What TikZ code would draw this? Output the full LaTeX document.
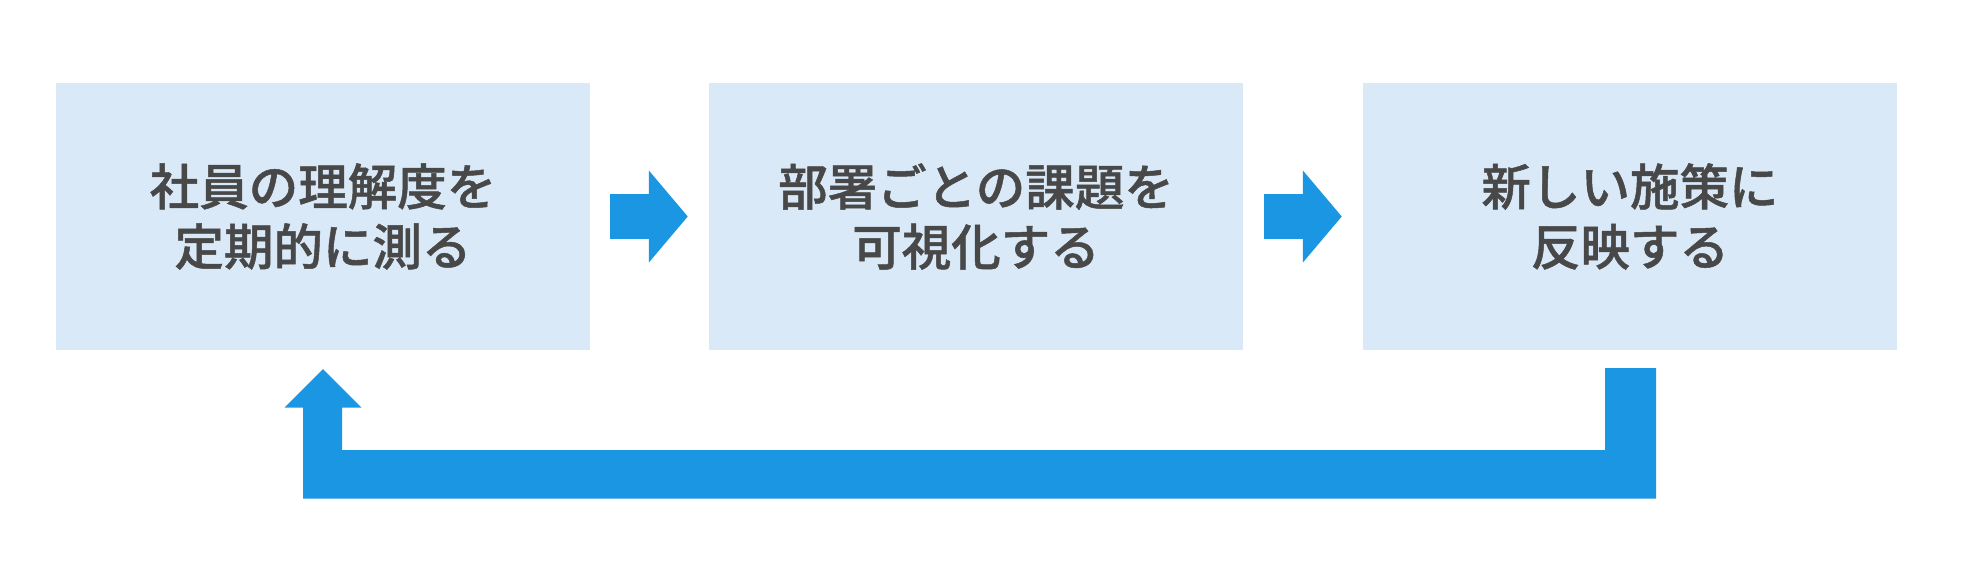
\documentclass[tikz,border=0pt]{standalone}
\usepackage{fontspec}
\IfFontExistsTF{Noto Sans CJK JP Medium}
  {\newfontfamily\jp{Noto Sans CJK JP Medium}[FakeBold=1]\newcommand\jpweight{}}
  {\newfontfamily\jp{Noto Sans CJK JP}\newcommand\jpweight{\bfseries}}
\usetikzlibrary{calc,arrows.meta}
\definecolor{boxfill}{RGB}{218,233,248}
\definecolor{arrowblue}{RGB}{27,150,227}
\definecolor{textgray}{RGB}{72,72,72}
\tikzset{
  stepbox/.style={rectangle, fill=boxfill, draw=none, minimum width=534pt, minimum height=267pt,
    inner sep=0pt, align=center, text=textgray, font=\jp\jpweight\fontsize{49.5pt}{60pt}\selectfont},
  flowarrow/.style={draw=arrowblue, line width=45pt, -{Triangle[length=39pt,width=90pt,fill=arrowblue]}},
  backarrow/.style={fill=arrowblue, draw=none}
}
\begin{document}
\begin{tikzpicture}[x=1pt,y=-1pt]
\useasboundingbox (0,0) rectangle (1962,564);
\node[stepbox] (b1) at (323,216.5) {社員の理解度を\\定期的に測る};
\node[stepbox] (b2) at (976,216.5) {部署ごとの課題を\\可視化する};
\node[stepbox] (b3) at (1630,216.5) {新しい施策に\\反映する};
\draw[flowarrow] ($(b1.east)+(20,0)$) -- ($(b2.west)+(-21,0)$);
\draw[flowarrow] ($(b2.east)+(21,0)$) -- ($(b3.west)+(-21,0)$);
\fill[backarrow]
  ($(b1.south)+(0,19)$) -- ($(b1.south)+(38.5,57.5)$) -- ($(b1.south)+(19,57.5)$)
  -- ($(b1.south)+(19,100)$) -- ($(b3.south)+(-25,100)$) -- ($(b3.south)+(-25,18)$)
  -- ($(b3.south)+(26,18)$) -- ($(b3.south)+(26,148.5)$) -- ($(b1.south)+(-20,148.5)$)
  -- ($(b1.south)+(-20,57.5)$) -- ($(b1.south)+(-38.5,57.5)$) -- cycle;
\end{tikzpicture}
\end{document}
